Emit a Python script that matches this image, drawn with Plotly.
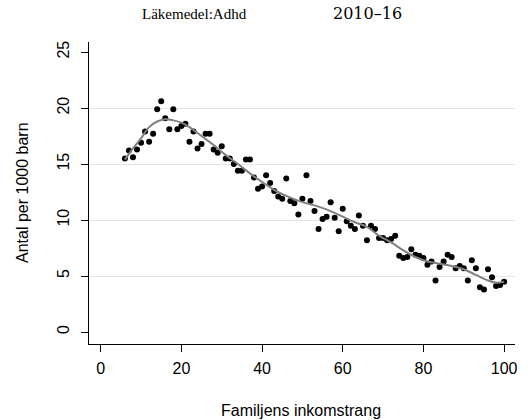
import plotly.graph_objects as go

# Scatter data: family income rank (percentile) vs. ADHD medication per 1000 children
income_rank = list(range(6, 101))
rate = [
    15.5, 16.2, 15.6, 16.3, 16.9, 17.9, 17.0, 17.7, 19.9, 20.6,   # 6-15
    19.1, 18.1, 19.9, 18.1, 18.4, 18.6, 17.0, 17.9, 16.4, 16.8,   # 16-25
    17.7, 17.7, 16.3, 16.0, 16.6, 15.5, 15.5, 15.0, 14.4, 14.4,   # 26-35
    15.4, 15.4, 13.8, 12.8, 13.0, 14.0, 13.3, 12.6, 12.1, 11.9,   # 36-45
    13.7, 11.7, 11.5, 10.5, 11.9, 14.0, 11.7, 10.8, 9.2, 10.1,    # 46-55
    10.3, 11.6, 10.2, 9.0, 11.0, 9.9, 9.5, 9.2, 10.4, 9.5,        # 56-65
    8.2, 9.5, 9.2, 8.4, 8.4, 8.2, 8.3, 8.6, 6.8, 6.6,             # 66-75
    6.7, 7.4, 6.9, 6.8, 6.6, 6.0, 6.3, 4.6, 5.8, 6.3,             # 76-85
    6.9, 6.7, 5.7, 5.9, 5.7, 4.6, 6.4, 5.7, 4.0, 3.8,             # 86-95
    5.6, 4.9, 4.1, 4.2, 4.5,                                      # 96-100
]

# Smoothed fit line
fit_x = [6, 8, 10, 12, 14, 16, 18, 20, 22, 25, 28, 31, 34, 38, 43, 47, 50,
         54, 57, 60, 63, 66, 69, 72, 75, 78, 81, 84, 87, 90, 93, 96, 98, 100]
fit_y = [15.4, 16.4, 17.3, 18.3, 18.8, 19.0, 18.9, 18.7, 18.3, 17.5, 16.7,
         15.8, 15.0, 13.9, 12.7, 12.0, 11.6, 11.2, 10.8, 10.3, 9.8, 9.4, 8.6,
         8.0, 7.3, 6.7, 6.3, 6.1, 5.9, 5.6, 5.1, 4.6, 4.4, 4.5]

x_ticks = [0, 20, 40, 60, 80, 100]
y_ticks = [0, 5, 10, 15, 20, 25]
y_grid = [5, 10, 15, 20]

fig = go.Figure()
# invisible trace to activate the overlay grid axis
fig.add_trace(go.Scatter(x=[None], y=[None], yaxis="y2", showlegend=False, hoverinfo="skip"))
fig.add_trace(go.Scatter(
    x=income_rank, y=rate, mode="markers",
    marker=dict(color="black", size=6, line=dict(width=0)),
    hoverinfo="skip", showlegend=False,
))
fig.add_trace(go.Scatter(
    x=fit_x, y=fit_y, mode="lines",
    line=dict(color="#808080", width=2, shape="spline", smoothing=1.0),
    hoverinfo="skip", showlegend=False,
))

sans = "Liberation Sans, Arial, sans-serif"
axis_font = dict(family=sans, size=16, color="black")

L, R, T, B = 89, 13, 42, 76
PW, PH = 528 - L - R, 420 - T - B

fig.update_layout(
    width=528, height=420,
    margin=dict(l=L, r=R, t=T, b=B),
    paper_bgcolor="white", plot_bgcolor="white",
    xaxis=dict(
        range=[-2.9, 102.7], tickvals=x_ticks, ticks="outside", ticklen=7,
        tickcolor="black", showline=True, linecolor="black", linewidth=1,
        showgrid=False, zeroline=False, tickfont=axis_font, automargin=False,
        ticklabelstandoff=3,
    ),
    yaxis=dict(
        range=[-1.07, 25.9], tickvals=y_ticks, ticks="outside", ticklen=7,
        tickcolor="black", showline=True, linecolor="black", linewidth=1,
        showgrid=False, zeroline=False, tickfont=axis_font, tickangle=-90,
        automargin=False, ticklabelstandoff=6,
    ),
    yaxis2=dict(
        overlaying="y", matches="y", tickvals=y_grid, showgrid=True,
        gridcolor="#dde8ea", gridwidth=1, showticklabels=False, ticks="",
        zeroline=False, showline=False, side="left", automargin=False,
    ),
    annotations=[
        dict(text="Läkemedel:Adhd", xref="paper", yref="paper",
             x=(140 - L) / PW, y=(420 - B - 14) / PH, xanchor="left", yanchor="middle",
             showarrow=False, font=dict(family="Liberation Serif, serif", size=15, color="black")),
        dict(text="2010–16", xref="paper", yref="paper",
             x=(331 - L) / PW, y=(420 - B - 14) / PH, xanchor="left", yanchor="middle",
             showarrow=False, font=dict(family="DejaVu Serif, serif", size=16, color="black")),
        dict(text="Familjens inkomstrang", xref="paper", yref="paper",
             x=(301 - L) / PW, y=(420 - B - 410) / PH, xanchor="center", yanchor="middle",
             showarrow=False, font=dict(family=sans, size=16, color="black")),
        dict(text="Antal per 1000 barn", xref="paper", yref="paper", textangle=-90,
             x=(22 - L) / PW, y=0.5, xanchor="center", yanchor="middle",
             showarrow=False, font=dict(family=sans, size=16, color="black")),
    ],
)

fig.write_html("out.html")
